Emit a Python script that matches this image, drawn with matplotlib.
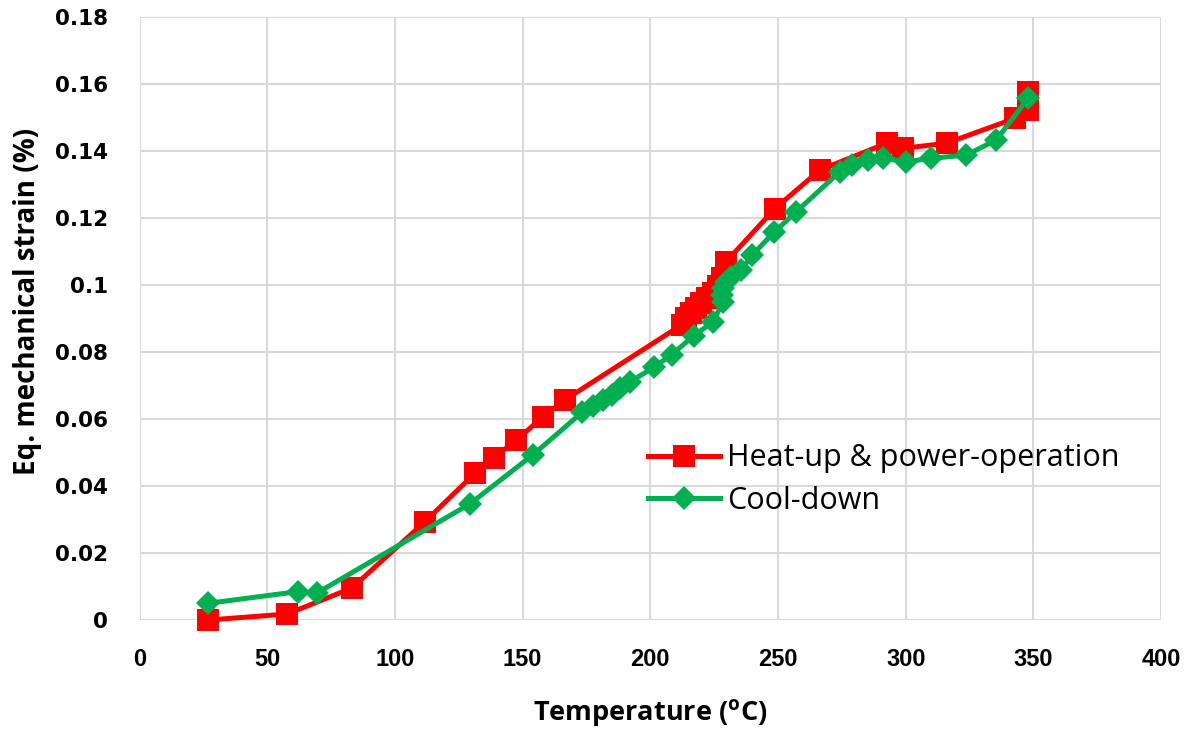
import matplotlib
matplotlib.use("Agg")
import matplotlib.pyplot as plt
from matplotlib.ticker import FixedLocator

# Heat-up & power-operation
heat_T = [26.9, 57.8, 83.0, 111.7, 131.3, 138.7, 147.4, 157.9, 166.5,
          212.5, 214.0, 216.0, 218.0, 220.0, 222.0, 224.5, 226.5, 228.0, 229.5,
          248.8, 266.4, 292.5, 299.0, 316.0, 343.0, 348.0, 348.0]
heat_s = [0.0, 0.0018, 0.0095, 0.0293, 0.0438, 0.0484, 0.0536, 0.0606, 0.0657,
          0.0882, 0.0900, 0.0915, 0.0930, 0.0945, 0.0960, 0.0975, 0.0998, 0.1020, 0.1068,
          0.1228, 0.1343, 0.1423, 0.1408, 0.1423, 0.1498, 0.1522, 0.1577]

# Cool-down
cool_T = [26.9, 62.1, 69.3, 129.4, 154.0, 173.3, 177.6, 181.5, 184.8, 188.0,
          192.0, 201.6, 208.3, 217.0, 224.5, 228.5, 228.0, 228.5, 229.5, 231.5,
          235.5, 240.0, 248.4, 257.2, 274.2, 278.8, 285.3, 291.1, 300.3, 310.1,
          323.8, 335.5, 348.0]
cool_s = [0.0050, 0.0085, 0.0080, 0.0347, 0.0493, 0.0620, 0.0640, 0.0657, 0.0672, 0.0692,
          0.0711, 0.0755, 0.0792, 0.0848, 0.0890, 0.0950, 0.0970, 0.0990, 0.1010, 0.1025,
          0.1045, 0.1090, 0.1157, 0.1219, 0.1338, 0.1358, 0.1373, 0.1378, 0.1368, 0.1378,
          0.1388, 0.1433, 0.1558]

x_ticks = [0, 50, 100, 150, 200, 250, 300, 350, 400]
y_ticks = [0, 0.02, 0.04, 0.06, 0.08, 0.1, 0.12, 0.14, 0.16, 0.18]
y_tick_labels = ["0", "0.02", "0.04", "0.06", "0.08", "0.1", "0.12", "0.14", "0.16", "0.18"]

fig = plt.figure(figsize=(12.04, 7.31), dpi=100)
ax = fig.add_axes([0.116, 0.1518, 0.8483, 0.825])

red = "#FF0000"
green = "#00B050"

ax.plot(heat_T, heat_s, color=red, lw=3.6, marker="s", markersize=16,
        markeredgewidth=0, label="Heat-up & power-operation", clip_on=False, zorder=3)
ax.plot(cool_T, cool_s, color=green, lw=3.6, marker="D", markersize=12,
        markeredgewidth=0, label="Cool-down", clip_on=False, zorder=4)

ax.set_xlim(0, 400)
ax.set_ylim(0, 0.18)
ax.xaxis.set_major_locator(FixedLocator(x_ticks))
ax.yaxis.set_major_locator(FixedLocator(y_ticks))
ax.set_yticklabels(y_tick_labels)
ax.grid(True, color="#D9D9D9", lw=1.5, zorder=0)
ax.set_axisbelow(True)
for sp in ax.spines.values():
    sp.set_visible(False)
ax.tick_params(length=0)
ax.tick_params(axis="y", pad=23)
ax.tick_params(axis="x", pad=20)

for lab in ax.get_yticklabels():
    lab.set_fontfamily("DejaVu Sans")
    lab.set_fontweight("bold")
    lab.set_fontsize(15.5)
for lab in ax.get_xticklabels():
    lab.set_fontfamily("Liberation Sans")
    lab.set_fontweight("bold")
    lab.set_fontsize(17)

ax.set_xlabel("Temperature ($\\mathregular{^o}$C)", fontsize=19.5, fontweight="bold",
              family="Open Sans", labelpad=19)
ax.set_ylabel("Eq. mechanical strain (%)", fontsize=20, fontweight="bold",
              family="Open Sans", labelpad=9)
ax.yaxis.label.set_y((620 - 301) / 603)

leg = ax.legend(loc="center left", bbox_to_anchor=((648 - 139.6) / 1021.4, (620 - 479.5) / 603),
                frameon=False, prop={"family": "Open Sans", "size": 22},
                handlelength=2.35, handletextpad=0.25, labelspacing=0.40, borderpad=0,
                borderaxespad=0)

fig.savefig("out.png", dpi=100)
